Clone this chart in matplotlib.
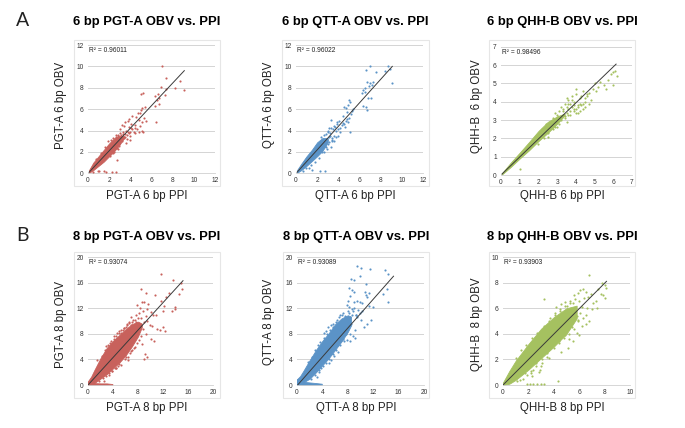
import matplotlib
matplotlib.use('Agg')
import matplotlib.pyplot as plt
from matplotlib.patches import Rectangle

plt.rcParams['font.family'] = ['Liberation Sans', 'DejaVu Sans']

W, H = 685, 428
RED = '#c8615c'
BLUE = '#5b93c7'
GREEN = '#a5c160'

# ---- top row, 6 bp ----
a1_band_x = [0.1, 0.5, 1.0, 1.5, 2.0, 2.5, 3.0, 3.4]
a1_band_lo = [0.05, 0.3, 0.7, 1.1, 1.6, 2.1, 2.7, 3.3]
a1_band_hi = [0.3, 1.0, 1.6, 2.2, 2.8, 3.3, 3.5, 3.5]
a1_x = [7.0, 7.4, 8.7, 6.9, 7.4, 8.2, 9.1, 7.3, 6.6, 6.3, 6.7, 6.5, 6.7, 6.4, 5.2, 5.0, 5.4, 5.1, 4.9, 5.3,
        4.8, 5.1, 5.2, 4.6, 5.5, 5.0, 4.5, 4.7, 4.2, 3.9, 4.4, 4.0, 3.7, 4.3, 3.4, 3.2, 3.0, 2.8, 3.5, 3.8,
        4.0, 3.6, 5.1, 4.8, 4.4, 6.3, 2.7, 1.5, 1.7, 2.3, 2.6, 1.0, 0.9, 0.5, 2.9, 2.5, 2.6, 3.3, 4.1, 4.9,
        2.2, 2.4, 2.6, 2.8, 3.0, 3.1, 3.3, 3.4, 3.6, 3.7, 3.9, 4.0, 4.2, 4.4, 3.2, 2.9, 2.7, 3.5, 3.8, 4.1,
        1.2, 1.6, 1.9, 0.8, 2.1, 2.4, 2.8, 3.2, 3.5, 3.9]
a1_y = [10.0, 8.9, 8.6, 8.1, 7.9, 8.0, 7.8, 7.3, 7.4, 7.2, 7.0, 6.9, 6.5, 4.8, 7.5, 7.4, 6.2, 6.1, 5.6, 5.2,
        5.0, 4.8, 3.9, 4.1, 4.9, 5.9, 5.3, 5.6, 5.4, 5.1, 4.2, 3.5, 3.2, 3.9, 4.4, 4.5, 4.1, 3.6, 4.8, 4.9,
        3.1, 2.8, 4.0, 3.9, 3.8, 6.3, 1.2, 0.2, 0.1, 0.15, 0.15, 0.2, 0.25, 0.1, 2.7, 2.0, 3.6, 3.7, 4.6, 4.4,
        3.1, 3.3, 3.4, 3.5, 3.8, 3.6, 3.9, 3.3, 4.0, 3.6, 4.3, 3.9, 4.1, 4.5, 3.0, 2.6, 2.4, 3.4, 3.9, 4.2,
        1.9, 2.5, 3.0, 1.3, 1.6, 1.9, 2.3, 3.2, 3.7, 3.8]
a1_line_x = [0.1, 9.1]
a1_line_y = [0.1, 9.6]

a2_band_x = [0.1, 0.5, 1.0, 1.5, 2.0, 2.5, 3.0]
a2_band_lo = [0.05, 0.3, 0.7, 1.15, 1.6, 2.1, 2.9]
a2_band_hi = [0.3, 0.9, 1.6, 2.2, 2.9, 3.3, 3.3]
a2_x = [7.0, 8.7, 8.9, 8.4, 6.6, 7.6, 9.1, 6.7, 7.3, 7.0, 7.2, 6.9, 6.5, 6.3, 6.5, 6.2, 7.1, 6.8, 6.6, 6.7,
        6.3, 5.0, 5.1, 4.9, 4.5, 4.7, 5.3, 5.2, 4.8, 4.4, 4.9, 5.1, 3.9, 3.6, 4.1, 4.3, 3.3, 3.8, 4.0, 3.4,
        3.1, 3.0, 3.6, 4.6, 4.8, 5.0, 2.6, 2.3, 1.5, 2.7, 1.2, 0.7, 2.9, 3.3, 4.2, 5.4,
        2.4, 2.6, 2.8, 3.0, 3.2, 3.3, 3.5, 3.7, 3.1, 2.9, 2.7, 3.4, 3.6, 3.8, 4.0, 4.2, 4.5, 4.7, 2.5, 2.8,
        3.1, 3.4, 3.2, 3.9, 4.4, 1.8, 2.2, 1.4, 0.9, 3.0]
a2_y = [10.0, 10.0, 9.8, 9.6, 9.7, 9.5, 8.4, 8.5, 8.5, 8.4, 8.3, 8.2, 8.0, 7.8, 7.6, 7.5, 7.0, 7.0, 6.2, 5.9,
        6.3, 6.9, 6.7, 6.4, 6.2, 6.1, 5.8, 5.5, 5.1, 5.4, 4.8, 3.9, 4.8, 4.4, 4.9, 4.5, 5.0, 4.0, 3.5, 3.3,
        4.2, 3.9, 3.0, 4.3, 5.7, 5.2, 2.0, 0.2, 0.35, 0.2, 0.45, 0.2, 2.3, 2.5, 4.2, 6.0,
        3.4, 3.6, 3.7, 4.0, 3.8, 4.2, 4.1, 4.3, 3.4, 3.1, 2.6, 3.0, 3.5, 3.4, 4.1, 3.9, 4.6, 4.9, 2.0, 2.5,
        2.9, 3.1, 3.5, 4.6, 4.7, 1.1, 1.4, 0.8, 0.5, 2.7]
a2_line_x = [0.1, 9.1]
a2_line_y = [0.1, 10.0]

a3_band_x = [0.05, 0.5, 1.0, 1.5, 2.0, 2.5, 3.0, 3.4]
a3_band_lo = [0.03, 0.42, 0.9, 1.35, 1.85, 2.3, 2.8, 3.25]
a3_band_hi = [0.1, 0.65, 1.22, 1.8, 2.4, 2.9, 3.2, 3.35]
a3_x = [6.1, 6.0, 5.9, 6.2, 6.0, 5.6, 5.3, 5.5, 5.7, 5.1, 5.0, 5.2, 4.9, 4.7, 4.6, 4.5, 4.8, 4.4, 4.3, 4.5,
        4.2, 4.0, 4.3, 4.1, 3.9, 3.8, 3.6, 3.7, 3.5, 3.9, 3.4, 3.3, 3.5, 3.1, 3.2, 3.4, 3.0, 2.8, 2.9, 3.5,
        2.6, 2.9, 1.0, 2.0, 2.3, 2.5, 4.5, 4.7, 4.0, 3.7,
        3.6, 3.7, 3.8, 3.9, 4.0, 4.1, 4.2, 3.5, 3.6, 3.8, 4.0, 4.2, 4.4, 3.3, 3.1, 3.2, 3.0, 2.8, 2.7, 2.5,
        2.4, 2.2, 3.4, 3.6, 3.9, 4.1, 4.4, 4.6]
a3_y = [5.7, 5.6, 5.5, 5.4, 4.9, 4.7, 5.1, 4.9, 5.2, 4.6, 5.0, 4.8, 4.7, 4.5, 4.4, 4.2, 4.1, 4.6, 4.3, 4.0,
        3.9, 4.7, 3.8, 3.7, 4.0, 4.3, 4.1, 3.9, 4.2, 3.5, 3.9, 3.6, 3.7, 3.5, 3.7, 3.1, 3.3, 3.1, 3.4, 2.9,
        2.7, 2.6, 0.35, 1.7, 2.0, 2.3, 3.7, 3.9, 3.4, 3.3,
        3.6, 3.5, 3.7, 3.8, 3.6, 3.8, 3.5, 3.4, 3.9, 4.1, 4.4, 4.2, 3.6, 3.5, 2.8, 3.0, 2.6, 2.5, 2.9, 2.1,
        2.8, 2.5, 3.2, 3.3, 3.6, 3.4, 3.9, 4.3]
a3_line_x = [0.05, 6.15]
a3_line_y = [0.05, 6.05]

# ---- bottom row, 8 bp ----
b1_band_x = [0.0, 0.5, 1.0, 2.0, 3.0, 4.0, 5.0, 6.0, 7.0, 8.0, 8.6]
b1_band_lo = [0.0, 0.0, 0.3, 1.0, 1.7, 2.6, 3.5, 4.6, 6.0, 7.6, 9.0]
b1_band_hi = [0.6, 1.3, 2.3, 4.2, 5.8, 6.9, 7.8, 8.7, 9.5, 9.9, 9.6]
b1_tail_x = [0.0, 1.0, 2.0, 3.0, 3.9]
b1_tail_lo = [0.0, 0.0, 0.0, 0.0, 0.0]
b1_tail_hi = [0.5, 0.3, 0.25, 0.25, 0.15]
b1_x = [11.7, 13.6, 14.9, 15.0, 14.6, 13.9, 13.9, 12.9, 12.1, 13.4, 12.0, 8.4, 9.2, 10.7, 11.7, 12.4, 12.3, 8.6, 9.6, 9.0,
        8.2, 7.9, 8.3, 8.8, 9.5, 10.0, 10.4, 10.9, 9.2, 8.4, 8.0, 7.6, 7.2, 6.9, 6.6, 6.3, 6.8, 7.7, 8.1, 8.9,
        9.4, 9.9, 10.3, 11.0, 11.5, 12.0, 8.3, 8.8, 9.3, 8.5, 9.0, 4.7, 5.2, 5.7, 6.2, 5.0, 4.4, 6.0, 6.7, 7.1,
        7.5, 9.1, 9.5, 7.4, 8.6, 10.1, 10.6, 3.3, 3.8, 4.3, 2.6, 6.4, 7.8, 8.2,
        1.5, 2.2, 2.7, 3.2, 3.6, 4.1, 4.5, 4.9, 5.3, 5.8, 6.2, 6.6, 1.7, 2.4, 2.9, 3.4, 3.9, 4.4, 4.8, 5.3,
        5.9, 6.4, 6.9, 7.3, 2.8, 3.5, 4.2, 5.0, 5.6, 6.1, 7.0, 7.5]
b1_y = [17.3, 16.4, 16.0, 15.0, 14.2, 12.2, 11.8, 14.4, 12.4, 11.6, 11.6, 15.0, 14.4, 14.1, 13.2, 13.8, 8.4, 13.0, 12.6, 12.9,
        11.3, 12.5, 12.0, 11.5, 11.8, 11.4, 11.0, 10.9, 10.8, 10.4, 10.5, 10.9, 10.2, 10.6, 9.9, 9.5, 9.4, 9.8, 9.6, 9.8,
        10.0, 9.4, 9.2, 8.8, 8.6, 9.0, 8.9, 8.7, 7.9, 7.6, 4.1, 8.2, 8.6, 8.9, 8.1, 3.3, 2.6, 4.3, 5.0, 5.4,
        6.0, 4.8, 4.3, 7.1, 6.4, 7.2, 6.8, 1.5, 2.2, 2.7, 0.7, 3.9, 6.6, 7.0,
        3.9, 4.6, 5.5, 6.3, 6.9, 7.2, 7.7, 8.1, 8.2, 8.9, 9.4, 9.7, 0.6, 1.1, 1.4, 1.8, 2.2, 2.7, 3.0, 3.2,
        4.0, 4.4, 5.3, 5.8, 6.1, 6.6, 7.6, 8.5, 8.6, 9.1, 9.9, 10.2]
b1_line_x = [0.0, 15.2]
b1_line_y = [0.0, 16.3]

b2_band_x = [0.0, 0.5, 1.0, 2.0, 3.0, 4.0, 5.0, 6.0, 7.0, 8.0, 8.5]
b2_band_lo = [0.0, 0.1, 0.4, 1.0, 2.0, 3.1, 4.2, 5.5, 6.8, 8.3, 9.3]
b2_band_hi = [0.9, 1.4, 2.2, 3.9, 5.5, 6.9, 8.1, 9.5, 10.4, 10.9, 10.7]
b2_tail_x = [0.0, 1.0, 2.0, 3.0, 3.9]
b2_tail_lo = [0.0, 0.0, 0.0, 0.0, 0.0]
b2_tail_hi = [0.9, 0.5, 0.4, 0.3, 0.2]
b2_x = [9.4, 10.1, 11.5, 13.8, 14.3, 8.5, 8.9, 9.9, 10.8, 14.2, 13.6, 14.4, 8.2, 8.6, 9.0, 10.7, 8.3, 10.8, 11.0, 11.4,
        8.0, 8.9, 9.4, 9.9, 10.2, 11.3, 12.0, 7.8, 8.2, 8.6, 9.0, 9.6, 10.3, 9.9, 9.3, 8.1, 8.7, 9.5, 10.1, 11.6,
        11.0, 10.6, 8.4, 8.8, 9.2, 6.8, 7.2, 7.6, 8.1, 7.0, 6.3, 5.7, 5.3, 4.9, 6.5, 4.2, 4.6, 3.4, 3.8, 8.4,
        7.9, 7.4, 9.1, 8.5, 5.0, 5.4, 5.9, 3.2,
        1.7, 2.3, 2.8, 3.3, 3.7, 4.2, 4.7, 5.2, 5.6, 6.1, 6.6, 7.1, 2.2, 2.9, 3.5, 4.1, 4.6, 5.1, 5.7, 6.2,
        6.8, 7.3, 7.7, 8.2, 8.8, 9.3]
b2_y = [18.6, 18.3, 18.2, 18.0, 17.4, 16.5, 16.4, 17.0, 15.8, 15.0, 14.2, 13.0, 15.2, 14.8, 14.5, 14.6, 13.9, 14.1, 13.7, 14.4,
        13.1, 13.0, 13.2, 12.9, 12.8, 12.4, 12.2, 12.5, 12.2, 11.9, 12.0, 11.7, 11.6, 11.3, 11.0, 11.6, 11.0, 10.6, 10.2, 10.1,
        9.6, 9.0, 8.0, 7.6, 8.6, 10.9, 11.2, 10.8, 10.4, 7.0, 10.2, 9.6, 9.3, 9.0, 5.2, 8.1, 8.4, 2.0, 2.6, 6.8,
        7.0, 6.9, 7.4, 9.5, 3.4, 3.9, 4.6, 1.3,
        3.6, 4.4, 5.5, 6.2, 6.7, 7.4, 8.0, 8.6, 9.1, 9.9, 10.6, 11.0, 0.9, 1.6, 2.3, 2.9, 3.5, 4.1, 4.9, 5.5,
        6.3, 7.2, 7.9, 11.3, 11.6, 10.9]
b2_line_x = [0.1, 15.2]
b2_line_y = [0.0, 17.0]

b3_band_x = [0.0, 0.5, 1.0, 2.0, 3.0, 4.0, 5.0, 5.8]
b3_band_lo = [0.0, 0.1, 0.4, 1.2, 2.1, 3.0, 4.0, 5.2]
b3_band_hi = [0.2, 1.1, 1.9, 3.2, 4.4, 5.3, 6.0, 6.2]
b3_x = [6.8, 7.8, 8.0, 8.1, 7.5, 7.9, 8.0, 7.7, 7.3, 6.3, 6.1, 5.9, 5.6, 6.5, 6.7, 6.9, 7.1, 6.4, 6.0, 5.7,
        6.2, 6.6, 7.0, 7.4, 5.5, 5.8, 6.3, 6.8, 5.9, 6.1, 6.5, 5.3, 4.9, 4.6, 4.2, 3.2, 3.7, 4.1, 4.5, 5.0,
        5.2, 5.6, 5.8, 4.4, 4.8, 5.2, 4.6, 3.6, 3.1, 2.4, 1.9, 2.2, 2.6, 4.3, 3.5, 2.9, 3.0, 2.3, 2.8, 6.2,
        6.5, 6.0, 5.5, 1.1, 1.6, 5.1,
        1.0, 1.4, 1.8, 2.3, 2.7, 3.2, 3.6, 4.1, 4.5, 4.9, 5.3, 1.3, 1.7, 2.2, 2.6, 3.1, 3.5, 4.0, 4.4, 4.9,
        5.4, 5.9]
b3_y = [8.6, 8.0, 7.8, 7.6, 7.5, 7.0, 6.8, 7.1, 6.6, 7.5, 7.4, 7.2, 7.0, 7.3, 6.9, 7.1, 6.4, 6.8, 6.6, 6.7,
        6.1, 6.0, 5.9, 6.0, 6.4, 5.4, 5.2, 5.0, 5.0, 5.6, 4.8, 6.6, 6.5, 6.3, 6.1, 6.7, 5.2, 5.6, 5.9, 6.2,
        4.0, 4.4, 4.1, 3.3, 3.7, 3.6, 2.6, 2.1, 1.7, 1.2, 0.8, 0.9, 1.5, 0.3, 2.2, 1.2, 1.5, 0.7, 1.0, 4.6,
        5.5, 3.9, 3.4, 0.3, 0.5, 2.9,
        2.1, 2.7, 3.1, 3.7, 4.1, 4.6, 5.0, 5.5, 5.8, 6.2, 6.4, 0.4, 0.9, 1.1, 1.7, 2.0, 2.5, 2.9, 3.4, 3.9,
        4.5, 5.1]
b3_floor_x = [1.9, 2.1, 2.4, 2.7, 3.0, 3.2]
b3_floor_y = [0.1, 0.1, 0.1, 0.1, 0.1, 0.1]
b3_line_x = [0.0, 8.15]
b3_line_y = [0.0, 8.1]

panels = [
    dict(title='6 bp PGT-A OBV vs. PPI', xlabel='PGT-A 6 bp PPI', ylabel='PGT-A 6 bp OBV', r2='R² = 0.96011', color=RED,
         frame=(74, 40, 220, 186), box=(88, 45, 215, 173.3), top=12, step=2, title_y=22, label_pos=(61, 105),
         bands=[(a1_band_x, a1_band_lo, a1_band_hi)], pts=[(a1_x, a1_y)], line=(a1_line_x, a1_line_y)),
    dict(title='6 bp QTT-A OBV vs. PPI', xlabel='QTT-A 6 bp PPI', ylabel='QTT-A 6 bp OBV', r2='R² = 0.96022', color=BLUE,
         frame=(282, 40, 429, 186), box=(296, 45, 423, 173.3), top=12, step=2, title_y=22, label_pos=(269, 105),
         bands=[(a2_band_x, a2_band_lo, a2_band_hi)], pts=[(a2_x, a2_y)], line=(a2_line_x, a2_line_y)),
    dict(title='6 bp QHH-B OBV vs. PPI', xlabel='QHH-B 6 bp PPI', ylabel='QHH-B  6 bp OBV', r2='R² = 0.98496', color=GREEN,
         frame=(489, 40, 635, 186), box=(501, 46.7, 632, 175), top=7, step=1, title_y=22, label_pos=(477, 106),
         bands=[(a3_band_x, a3_band_lo, a3_band_hi)], pts=[(a3_x, a3_y)], line=(a3_line_x, a3_line_y)),
    dict(title='8 bp PGT-A OBV vs. PPI', xlabel='PGT-A 8 bp PPI', ylabel='PGT-A 8 bp OBV', r2='R² = 0.93074', color=RED,
         frame=(74, 252, 220, 398), box=(88, 257, 213, 385), top=20, step=4, title_y=237, label_pos=(61, 325),
         bands=[(b1_band_x, b1_band_lo, b1_band_hi), (b1_tail_x, b1_tail_lo, b1_tail_hi)], pts=[(b1_x, b1_y)], line=(b1_line_x, b1_line_y)),
    dict(title='8 bp QTT-A OBV vs. PPI', xlabel='QTT-A 8 bp PPI', ylabel='QTT-A 8 bp OBV', r2='R² = 0.93089', color=BLUE,
         frame=(283, 252, 429, 398), box=(297, 257, 424, 385), top=20, step=4, title_y=237, label_pos=(269, 322),
         bands=[(b2_band_x, b2_band_lo, b2_band_hi), (b2_tail_x, b2_tail_lo, b2_tail_hi)], pts=[(b2_x, b2_y)], line=(b2_line_x, b2_line_y)),
    dict(title='8 bp QHH-B OBV vs. PPI', xlabel='QHH-B 8 bp PPI', ylabel='QHH-B  8 bp OBV', r2='R² = 0.93903', color=GREEN,
         frame=(489, 252, 635, 398), box=(503, 257, 630, 385), top=10, step=2, title_y=237, label_pos=(477, 324),
         bands=[(b3_band_x, b3_band_lo, b3_band_hi)], pts=[(b3_x, b3_y), (b3_floor_x, b3_floor_y)], line=(b3_line_x, b3_line_y)),
]

fig = plt.figure(figsize=(W / 100, H / 100), dpi=100)

for p in panels:
    x0, y0, x1, y1 = p['frame']
    fig.add_artist(Rectangle((x0 / W, 1 - y1 / H), (x1 - x0) / W, (y1 - y0) / H, transform=fig.transFigure,
                             facecolor='white', edgecolor='#e6e6e6', lw=0.8, zorder=-1))
    l, t, r, b = p['box']
    ax = fig.add_axes([l / W, 1 - b / H, (r - l) / W, (b - t) / H])
    ax.patch.set_alpha(0)
    ax.set_xlim(0, p['top'])
    ax.set_ylim(0, p['top'])
    ticks = list(range(0, p['top'] + 1, p['step']))
    ax.set_xticks(ticks)
    ax.set_yticks(ticks)
    ax.tick_params(length=0, labelsize=4.8, pad=3, colors='#333333')
    for s in ax.spines.values():
        s.set_visible(False)
    ax.spines['bottom'].set_visible(True)
    ax.spines['bottom'].set_color('#d0d0d0')
    ax.spines['bottom'].set_linewidth(0.6)
    ax.grid(axis='y', color='#d4d4d4', lw=0.7)
    ax.set_axisbelow(True)
    for bx, lo, hi in p['bands']:
        ax.fill_between(bx, lo, hi, color=p['color'], lw=0.6, zorder=2)
    for px, py in p['pts']:
        ax.scatter(px, py, s=2.4, color=p['color'], lw=0, zorder=3, clip_on=False)
    ax.plot(p['line'][0], p['line'][1], color='#3a3a3a', lw=0.7, zorder=4)
    ax.text(0.01, 0.955, p['r2'], transform=ax.transAxes, fontsize=4.8, color='#222222', va='center')
    fig.text((x0 + x1) / 2 / W, 1 - p['title_y'] / H, p['title'], fontsize=9.4, fontweight='bold', ha='center', va='center')
    fig.text((x0 + x1) / 2 / W, 1 - (y1 + 10) / H, p['xlabel'], fontsize=8.3, color='#222222', ha='center', va='center')
    fig.text(p['label_pos'][0] / W, 1 - p['label_pos'][1] / H, p['ylabel'], fontsize=8.3, color='#222222', rotation=90, ha='center', va='center')

fig.text(23 / W, 1 - 21 / H, 'A', fontsize=14, color='#222222', ha='center', va='center', family='Lato')
fig.text(22 / W, 1 - 236 / H, 'B', fontsize=14, color='#222222', ha='center', va='center', family='Lato')

fig.savefig('out.png', dpi=100)
